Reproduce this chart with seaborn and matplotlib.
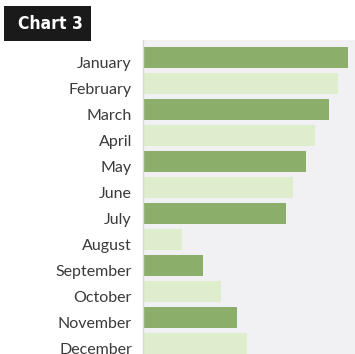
import matplotlib
matplotlib.use("Agg")
import matplotlib.pyplot as plt
import matplotlib.transforms as mtransforms
import seaborn as sns
import pandas as pd
from matplotlib.patches import Rectangle

months = ["January", "February", "March", "April", "May", "June",
          "July", "August", "September", "October", "November", "December"]
values = [205, 195, 186, 172, 163, 150, 143, 39, 60, 78, 94, 104]
shade = ["dark", "light"] * 6
title = "Chart 3"

df = pd.DataFrame({"month": months, "value": values, "shade": shade})

sns.set_theme(style="white")
plt.rcParams["font.family"] = ["Lato", "DejaVu Sans"]

W, H = 355, 354
fig = plt.figure(figsize=(W / 100, H / 100), dpi=100)
fig.patch.set_facecolor("white")

ax = fig.add_axes([143 / W, 0, 1 - 143 / W, 1 - 40 / H])
ax.set_facecolor("#f1f1f3")

sns.barplot(data=df, x="value", y="month", hue="shade", orient="h",
            palette={"dark": "#8cae6b", "light": "#deedcb"},
            width=0.8, dodge=False, legend=False, ax=ax,
            edgecolor="none", saturation=1)

ax.set_xlim(0, 212)
ax.set_ylim(11.40, -0.673)
ax.set_xlabel("")
ax.set_ylabel("")
ax.set_xticks([])
ax.tick_params(axis="y", length=0, pad=8, labelsize=11.5, labelcolor="#3a3a3a")
# month names sit slightly below the bar centres
shift = mtransforms.ScaledTranslation(0, -5 / 100, fig.dpi_scale_trans)
for lbl in ax.get_yticklabels():
    lbl.set_transform(lbl.get_transform() + shift)
for side in ["top", "right", "bottom"]:
    ax.spines[side].set_visible(False)
ax.spines["left"].set_color("#d8d8d8")
ax.spines["left"].set_linewidth(1.0)

# black title badge
fig.patches.append(Rectangle((4 / W, 1 - 41 / H), 87 / W, 35 / H,
                             transform=fig.transFigure, facecolor="#1a1a1a",
                             edgecolor="none"))
fig.text(50 / W, 1 - 24 / H, title, color="white", fontsize=12.5,
         fontweight="bold", fontstretch="condensed", ha="center", va="center",
         family=["DejaVu Sans"])

fig.savefig("out.png", dpi=100)
